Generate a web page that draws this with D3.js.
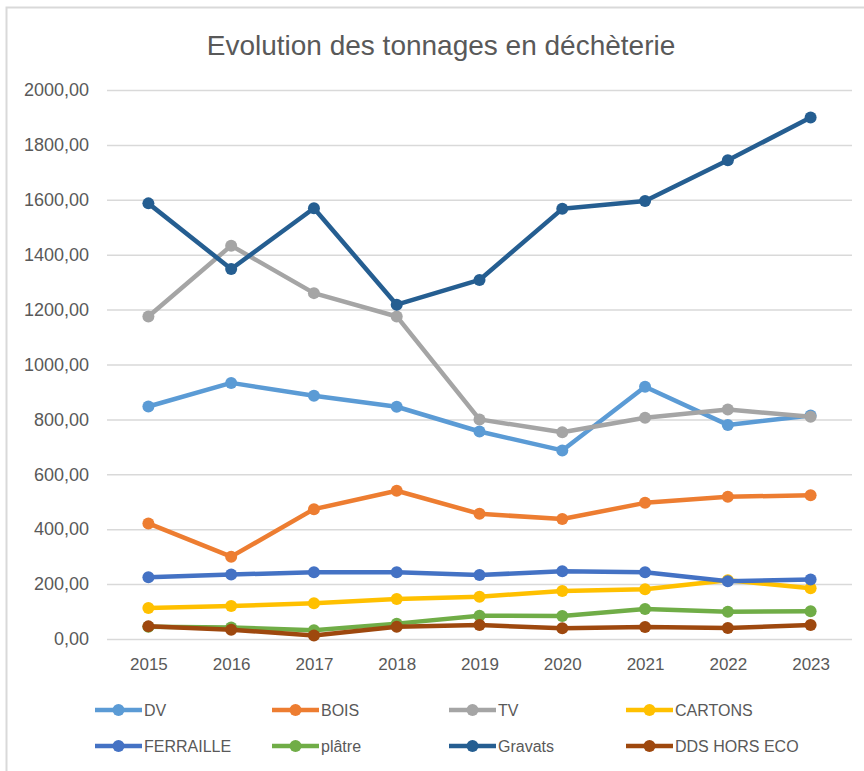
<!DOCTYPE html>
<html>
<head>
<meta charset="utf-8">
<script src="https://cdn.jsdelivr.net/npm/d3@7"></script>
<style>
  body { margin: 0; background: #fff; }
  svg text { font-family: "Liberation Sans", Arial, sans-serif; }
</style>
</head>
<body>
<div id="chart"></div>
<script>
const years = ['2015', '2016', '2017', '2018', '2019', '2020', '2021', '2022', '2023'];
const yTicks = [0, 200, 400, 600, 800, 1000, 1200, 1400, 1600, 1800, 2000];

const dv = [847, 933, 886, 846, 756, 687, 919, 780, 814];
const bois = [421, 300, 473, 540, 456, 437, 496, 518, 524];
const tv = [1175, 1433, 1260, 1175, 800, 753, 806, 836, 810];
const cartons = [113, 120, 130, 146, 154, 175, 181, 214, 185];
const ferraille = [225, 235, 243, 243, 233, 247, 243, 210, 217];
const platre = [45, 42, 32, 56, 85, 84, 109, 99, 101];
const gravats = [1587, 1348, 1569, 1218, 1308, 1567, 1596, 1744, 1900];
const dds = [46, 34, 13, 45, 51, 39, 44, 40, 51];

const seriesNames = ['DV', 'BOIS', 'TV', 'CARTONS', 'FERRAILLE', 'plâtre', 'Gravats', 'DDS HORS ECO'];
const seriesValues = [dv, bois, tv, cartons, ferraille, platre, gravats, dds];
const colors = ['#5B9BD5', '#ED7D31', '#A5A5A5', '#FFC000', '#4472C4', '#70AD47', '#255E91', '#9E480E'];

const width = 864;
const height = 771;
const plot = { left: 107, right: 852, top: 90, bottom: 639 };

const svg = d3.select('#chart')
  .append('svg')
  .attr('width', width)
  .attr('height', height);

// chart frame (only top and left edges are visible in the crop)
svg.append('rect')
  .attr('x', 6.5)
  .attr('y', 7.5)
  .attr('width', 950)
  .attr('height', 850)
  .attr('fill', 'none')
  .attr('stroke', '#d9d9d9')
  .attr('stroke-width', 2);

svg.append('text')
  .attr('x', 441)
  .attr('y', 55)
  .attr('text-anchor', 'middle')
  .attr('fill', '#595959')
  .style('font-size', '28px')
  .text('Evolution des tonnages en déchèterie');

const x = d3.scalePoint().domain(years).range([plot.left, plot.right]).padding(0.5);
const y = d3.scaleLinear().domain([0, 2000]).range([plot.bottom, plot.top]);

// horizontal grid lines
const yAxis = svg.append('g')
  .attr('transform', `translate(${plot.left},0)`)
  .call(d3.axisLeft(y)
    .tickValues(yTicks)
    .tickSize(-(plot.right - plot.left))
    .tickPadding(18)
    .tickFormat(d => d3.format('.2f')(d).replace('.', ',')));

yAxis.select('.domain').remove();
yAxis.selectAll('line').attr('stroke', '#d9d9d9').attr('stroke-width', 1.5);
yAxis.selectAll('text')
  .attr('fill', '#595959')
  .style('font-size', '18px')
  .style('font-family', '"Liberation Sans", Arial, sans-serif');

const xAxis = svg.append('g')
  .attr('transform', `translate(0,${plot.bottom})`)
  .call(d3.axisBottom(x).tickSize(0).tickPadding(19));

xAxis.select('.domain').remove();
xAxis.selectAll('text')
  .attr('fill', '#595959')
  .style('font-size', '17px')
  .style('font-family', '"Liberation Sans", Arial, sans-serif');

const line = d3.line()
  .x((d, i) => x(years[i]))
  .y(d => y(d));

const layers = svg.append('g')
  .selectAll('g.series')
  .data(seriesValues)
  .enter()
  .append('g')
  .attr('class', 'series');

layers.append('path')
  .attr('d', d => line(d))
  .attr('fill', 'none')
  .attr('stroke', (d, i) => colors[i])
  .attr('stroke-width', 4.5)
  .attr('stroke-linejoin', 'round');

layers.each(function (d, i) {
  d3.select(this)
    .selectAll('circle')
    .data(d)
    .enter()
    .append('circle')
    .attr('cx', (v, j) => x(years[j]))
    .attr('cy', v => y(v))
    .attr('r', 6)
    .attr('fill', colors[i]);
});

// legend, 4 columns x 2 rows
const legend = svg.append('g')
  .selectAll('g.legend-item')
  .data(seriesNames)
  .enter()
  .append('g')
  .attr('class', 'legend-item')
  .attr('transform', (d, i) => `translate(${95 + (i % 4) * 177},${710 + Math.floor(i / 4) * 36})`);

legend.append('line')
  .attr('x1', 0)
  .attr('x2', 47)
  .attr('y1', 0)
  .attr('y2', 0)
  .attr('stroke', (d, i) => colors[i])
  .attr('stroke-width', 4.5);

legend.append('circle')
  .attr('cx', 23.5)
  .attr('cy', 0)
  .attr('r', 6)
  .attr('fill', (d, i) => colors[i]);

legend.append('text')
  .attr('x', 49)
  .attr('y', 0)
  .attr('dy', '0.35em')
  .attr('fill', '#595959')
  .style('font-size', '16px')
  .text(d => d);
</script>
</body>
</html>
